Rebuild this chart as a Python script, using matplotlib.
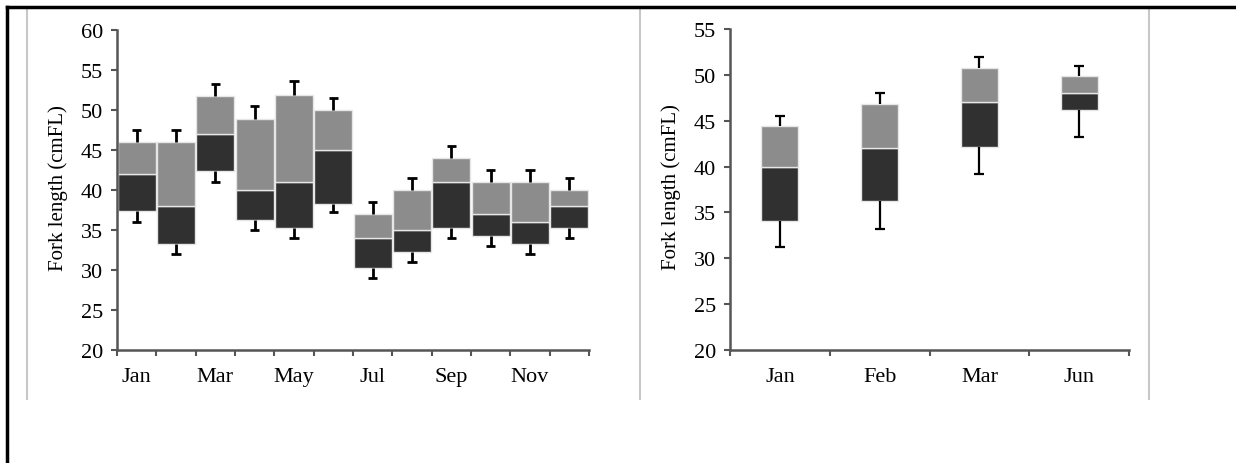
import matplotlib
matplotlib.use('Agg')
import matplotlib.pyplot as plt
import numpy as np

# left panel: monthly fork length box plots
months_a = ['Jan', 'Feb', 'Mar', 'Apr', 'May', 'Jun', 'Jul', 'Aug', 'Sep', 'Oct', 'Nov', 'Dec']
lo_a  = [36.0, 32.0, 41.0, 35.0, 34.0, 37.2, 29.0, 31.0, 34.0, 33.0, 32.0, 34.0]
q1_a  = [37.3, 33.3, 42.3, 36.2, 35.2, 38.2, 30.2, 32.2, 35.2, 34.2, 33.2, 35.2]
med_a = [42.0, 38.0, 47.0, 40.0, 41.0, 45.0, 34.0, 35.0, 41.0, 37.0, 36.0, 38.0]
q3_a  = [46.0, 46.0, 51.7, 48.9, 51.9, 50.0, 37.0, 40.0, 44.0, 41.0, 41.0, 40.0]
hi_a  = [47.5, 47.5, 53.2, 50.5, 53.6, 51.5, 38.5, 41.5, 45.5, 42.5, 42.5, 41.5]

# right panel
months_b = ['Jan', 'Feb', 'Mar', 'Jun']
lo_b  = [31.2, 33.2, 39.2, 43.2]
q1_b  = [34.1, 36.2, 42.1, 46.2]
med_b = [40.0, 42.0, 47.0, 48.0]
q3_b  = [44.4, 46.8, 50.8, 49.9]
hi_b  = [45.5, 48.0, 52.0, 51.0]

dark = '#303030'
light = '#8c8c8c'
axcol = '#555555'

plt.rcParams['font.family'] = ['Liberation Serif', 'DejaVu Serif']

fig = plt.figure(figsize=(12.36, 4.64), dpi=100)
W, H = 1236, 464


def panel(rect, names, lo, q1, med, q3, hi, width, capw, lw, ymax, label_every, labx):
    ax = fig.add_axes(rect)
    x = np.arange(len(names))
    lo, q1, med, q3, hi = map(np.array, (lo, q1, med, q3, hi))
    ax.bar(x, med - q1, bottom=q1, width=width, color=dark, edgecolor='#e6e6e6', linewidth=1, zorder=2)
    ax.bar(x, q3 - med, bottom=med, width=width, color=light, edgecolor='#e6e6e6', linewidth=1, zorder=2)
    ax.vlines(x, q3, hi, color='black', lw=lw, zorder=3)
    ax.hlines(hi, x - capw, x + capw, color='black', lw=lw, zorder=3)
    ax.vlines(x, lo, q1, color='black', lw=lw, zorder=3)
    ax.hlines(lo, x - capw, x + capw, color='black', lw=lw, zorder=3)
    ax.set_xlim(-0.5, len(names) - 0.5)
    ax.set_ylim(20, ymax)
    ax.set_yticks(np.arange(20, ymax + 1, 5))
    ax.set_xticks(np.arange(-0.5, len(names)), [])
    ax.set_xticks(x[::label_every], names[::label_every], minor=True)
    ax.tick_params(axis='x', which='minor', length=0, pad=12, labelsize=16)
    ax.tick_params(axis='x', which='major', length=4, width=1.5, color=axcol, direction='out')
    ax.tick_params(axis='y', length=4, width=1.5, color=axcol, pad=6, labelsize=16)
    for s in ['top', 'right']:
        ax.spines[s].set_visible(False)
    for s in ['left', 'bottom']:
        ax.spines[s].set_color(axcol)
        ax.spines[s].set_linewidth(1.8)
    ax.set_ylabel('Fork length (cmFL)', fontsize=15)
    ax.yaxis.set_label_coords(labx, 0.51)
    return ax


panel([117 / W, 113 / H, 472 / W, 320.3 / H], months_a, lo_a, q1_a, med_a, q3_a, hi_a,
      0.96, 0.12, 2.0, 60, 2, -0.104)
panel([730 / W, 113 / H, 399 / W, 321 / H], months_b, lo_b, q1_b, med_b, q3_b, hi_b,
      0.37, 0.05, 1.6, 55, 1, -0.123)

# chart area separators and outer frame
for xp in [27, 640, 1149]:
    fig.add_artist(plt.Line2D([xp / W, xp / W], [1 - 10 / H, 1 - 400 / H], color='#c8c8c8', lw=1.5))
fig.add_artist(plt.Line2D([7 / W, 1], [1 - 8 / H, 1 - 8 / H], color='black', lw=2.5))
fig.add_artist(plt.Line2D([7 / W, 7 / W], [0, 1 - 8 / H], color='black', lw=2.5))

fig.savefig('out.png', dpi=100)
